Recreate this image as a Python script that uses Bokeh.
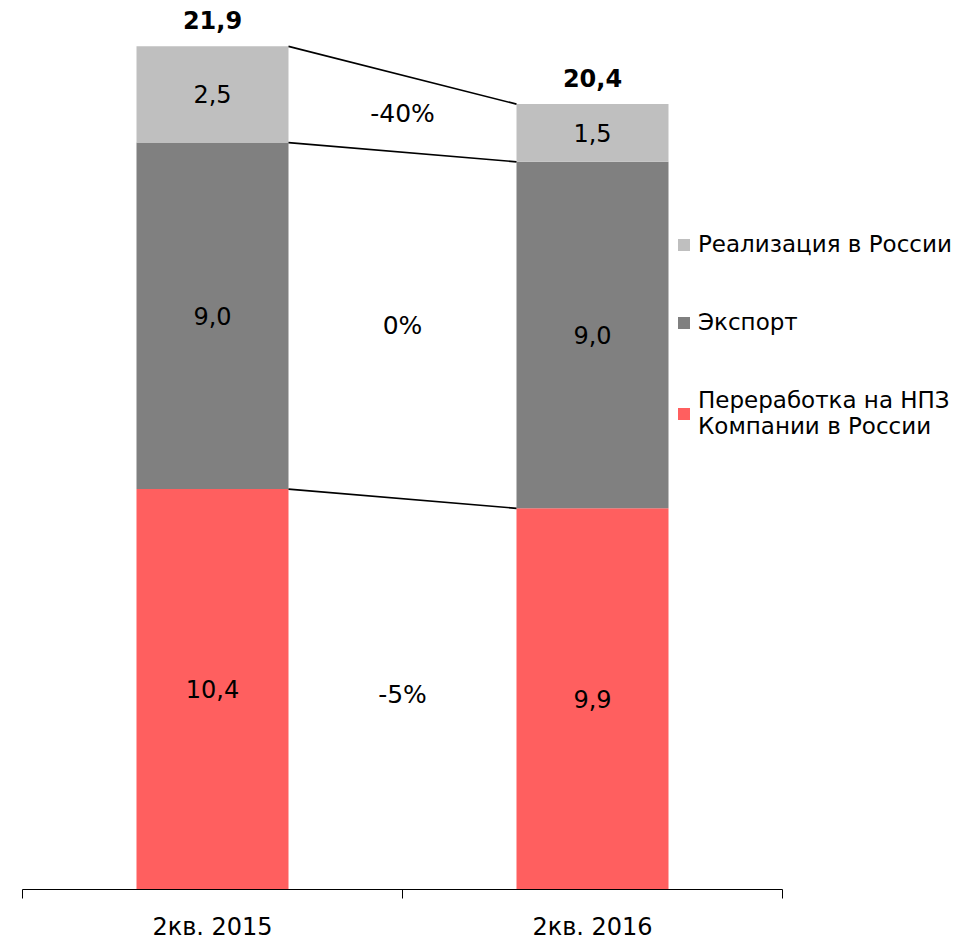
from bokeh.plotting import figure
from bokeh.models import (Range1d, ColumnDataSource, FixedTicker, LinearAxis, Legend, LegendItem)
from bokeh.core.properties import value
from bokeh.embed import file_html
from bokeh.resources import INLINE
import numpy as np

categories = ["2кв. 2015", "2кв. 2016"]
series_names = ["Переработка на НПЗ\nКомпании в России", "Экспорт", "Реализация в России"]
refining = [10.4, 9.9]
export = [9.0, 9.0]
domestic = [2.5, 1.5]
totals = [21.9, 20.4]
change_labels = ["-5%", "0%", "-40%"]
colors = ["#FF5F5F", "#808080", "#BFBFBF"]

FONT = "DejaVu Sans"
n = len(categories)

p = figure(frame_width=934, frame_height=881, output_backend="svg", toolbar_location=None,
           x_range=Range1d(0, 934 / 380), y_range=Range1d(0, 881 / 38.5),
           min_border_left=22, min_border_right=0, min_border_top=8, min_border_bottom=20,
           x_axis_type=None, y_axis_type=None)
p.outline_line_color = None
p.xgrid.visible = False
p.ygrid.visible = False

xs = np.arange(n) + 0.5
keys = ["refining", "export", "domestic"]
src = ColumnDataSource(dict(x=xs, refining=refining, export=export, domestic=domestic))
bar_w = 0.4
renderers = p.vbar_stack(keys, x="x", width=bar_w, source=src, color=colors, line_color=None)

# segment value labels
series = [refining, export, domestic]
bottoms = np.zeros(n)
mids = []
tops = []
lx, ly, lt = [], [], []
for s in series:
    s = np.array(s)
    mid = bottoms + s / 2
    mids.append(mid)
    for i in range(n):
        lx.append(xs[i]); ly.append(mid[i]); lt.append(f"{s[i]:.1f}".replace(".", ","))
    bottoms = bottoms + s
    tops.append(bottoms.copy())
p.text(x=lx, y=ly, text=lt, text_font=value(FONT), text_font_size="24px",
       text_align="center", text_baseline="middle", text_color="black")

# totals
p.text(x=list(xs), y=totals, text=[f"{t:.1f}".replace(".", ",") for t in totals],
       y_offset=-26, text_font=value(FONT), text_font_size="24px", text_font_style="bold",
       text_align="center", text_baseline="middle", text_color="black")

# connector lines between bar segments
x0 = xs[0] + bar_w / 2
x1 = xs[1] - bar_w / 2
p.segment(x0=[x0] * 3, x1=[x1] * 3, y0=[t[0] for t in tops], y1=[t[1] for t in tops],
          line_color="black", line_width=1.6)

# change labels
cx = [(xs[0] + xs[1]) / 2] * 3
cy = [(m[0] + m[1]) / 2 for m in mids]
p.text(x=cx, y=cy, text=change_labels, text_font=value(FONT), text_font_size="25px",
       text_align="center", text_baseline="middle", text_color="black")

# x axis: category labels at centers, tick marks at category boundaries
ax = LinearAxis(ticker=FixedTicker(ticks=[float(x) for x in xs],
                                   minor_ticks=[float(b) for b in range(n + 1)]),
                bounds=(0, n),
                major_label_overrides={float(x): c for x, c in zip(xs, categories)},
                axis_line_color="black", axis_line_width=1,
                major_tick_line_color=None, major_tick_out=0, major_tick_in=0,
                minor_tick_line_color="black", minor_tick_out=9, minor_tick_in=0,
                major_label_text_font=FONT, major_label_text_font_size="24px",
                major_label_text_color="black", major_label_standoff=14)
p.add_layout(ax, "below")

legend = Legend(items=[LegendItem(label=series_names[i], renderers=[renderers[i]]) for i in [2, 1, 0]],
                location=(654, 450), glyph_width=15, glyph_height=15, label_standoff=7,
                spacing=52, padding=0, margin=0, border_line_color=None, background_fill_alpha=0,
                label_text_font=FONT, label_text_font_size="23px", label_text_color="black")
p.add_layout(legend, "center")

open("out.html", "w").write(file_html(p, INLINE))
